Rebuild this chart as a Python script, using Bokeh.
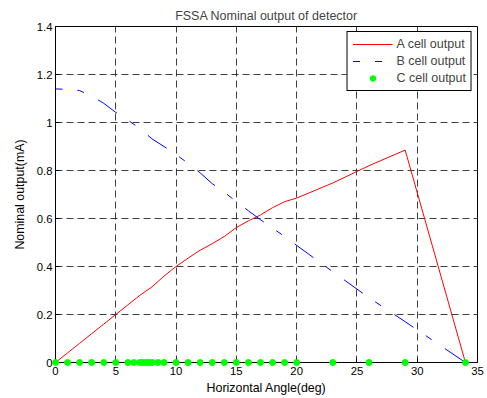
from bokeh.plotting import figure
from bokeh.models import Legend, LegendItem, FixedTicker, Range1d
from bokeh.embed import file_html
from bokeh.resources import INLINE

# Data
a_x = [0, 1, 2, 3, 4, 5, 6, 7, 8, 9, 10, 11, 12, 13, 14, 15, 16, 17, 18, 19, 20, 23, 26, 29, 34]
a_y = [0, 0.04, 0.08, 0.12, 0.16, 0.2, 0.24, 0.28, 0.315, 0.36, 0.4, 0.435, 0.468, 0.495, 0.525,
       0.5625, 0.59, 0.615, 0.645, 0.67, 0.685, 0.748, 0.82, 0.885, 0.0]
b_x = [0, 1, 2, 3, 4, 5, 6, 7, 8, 9, 10, 11, 12, 13, 14, 15, 16, 17, 18, 19, 20, 23, 26, 29, 34]
b_y = [1.14, 1.138, 1.133, 1.11, 1.08, 1.042, 1.01, 0.975, 0.932, 0.9, 0.866, 0.83, 0.79, 0.745,
       0.71, 0.67, 0.632, 0.595, 0.56, 0.525, 0.488, 0.378, 0.27, 0.17, 0.0]
c_x = [0, 1, 2, 3, 4, 5, 6, 6.5, 7, 7.25, 7.5, 7.75, 8, 8.5, 9, 10, 11, 12, 13, 14, 15, 16, 17,
       18, 19, 20, 23, 26, 29, 34]
c_y = [0] * len(c_x)
x_ticks = [0, 5, 10, 15, 20, 25, 30, 35]
y_ticks = [0, 0.2, 0.4, 0.6, 0.8, 1.0, 1.2, 1.4]

FONT = "Liberation Sans"

p = figure(width=487, height=398, output_backend="svg", toolbar_location=None,
           x_range=Range1d(0, 35), y_range=Range1d(0, 1.4),
           title="FSSA Nominal output of detector",
           min_border_left=55, min_border_right=10, min_border_top=26, min_border_bottom=36)

p.title.align = "center"
p.title.text_font = FONT
p.title.text_font_size = "12.5px"
p.title.text_font_style = "normal"
p.title.offset = 0
p.title.standoff = 8

p.background_fill_color = "white"
p.border_fill_color = "white"
p.outline_line_color = "black"
p.outline_line_width = 1
p.outline_line_alpha = 1

xax = p.xaxis[0]
yax = p.yaxis[0]
for ax in (xax, yax):
    ax.major_label_text_font = FONT
    ax.major_label_text_font_size = "11.3px"
    ax.major_label_text_color = "black"
    ax.axis_label_text_font = FONT
    ax.axis_label_text_font_size = "12.4px"
    ax.axis_label_text_font_style = "normal"
    ax.axis_label_text_color = "black"
    ax.major_tick_in = 4
    ax.major_tick_out = 0
    ax.minor_tick_line_color = None
    ax.axis_line_color = "black"
    ax.major_tick_line_color = "black"

xax.ticker = FixedTicker(ticks=x_ticks)
yax.ticker = FixedTicker(ticks=y_ticks)
yax.major_label_overrides = {0: "0", 0.2: "0.2", 0.4: "0.4", 0.6: "0.6", 0.8: "0.8", 1.0: "1", 1.2: "1.2", 1.4: "1.4"}
xax.axis_label = "Horizontal Angle(deg)"
yax.axis_label = "Nominal output(mA)"
xax.major_label_standoff = 4
yax.major_label_standoff = 3
xax.axis_label_standoff = 3
yax.axis_label_standoff = 7

for g in (p.xgrid[0], p.ygrid[0]):
    g.grid_line_color = "#2a2a2a"
    g.grid_line_dash = "7 4"
    g.grid_line_width = 1
    g.grid_line_alpha = 0.9

ra = p.line(a_x, a_y, line_color="red", line_width=1)
rb = p.line(b_x, b_y, line_color="blue", line_width=1, line_dash="23 15 7 16", line_dash_offset=16)
rc = p.scatter(c_x, c_y, size=6, fill_color="#00ff00", line_color="#00ff00", level="overlay")

legend = Legend(items=[
    LegendItem(label="A cell output", renderers=[ra]),
    LegendItem(label="B cell output", renderers=[rb]),
    LegendItem(label="C cell output", renderers=[rc]),
], location="top_right")
legend.label_text_font = FONT
legend.label_text_font_size = "12.5px"
legend.border_line_color = "black"
legend.border_line_alpha = 1
legend.background_fill_alpha = 1
legend.glyph_width = 40
legend.glyph_height = 14
legend.label_height = 14
legend.label_standoff = 4
legend.spacing = 3
legend.padding = 5
legend.margin = 5
p.add_layout(legend)

open("out.html", "w").write(file_html(p, INLINE))
